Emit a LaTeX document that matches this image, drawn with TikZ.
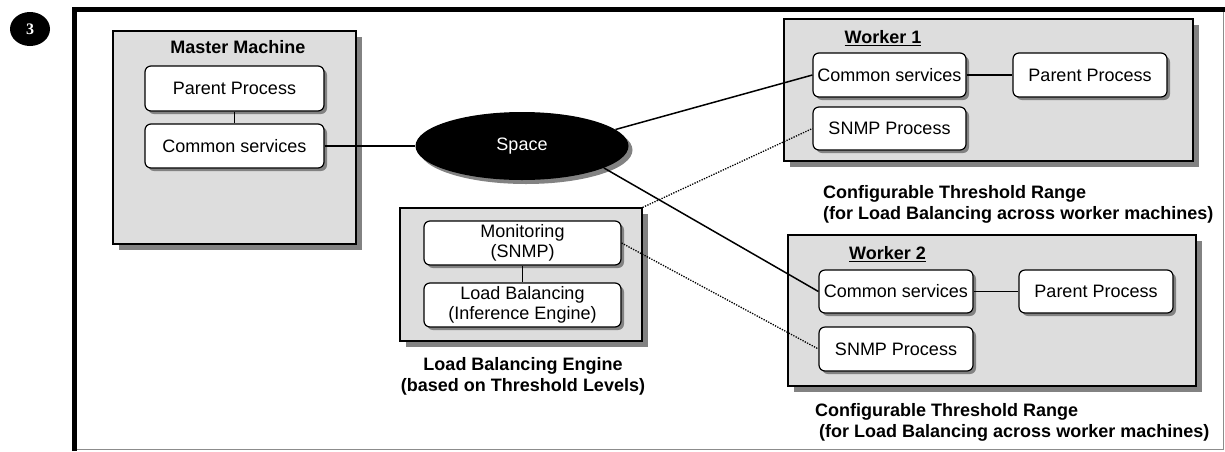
\documentclass[tikz,border=0pt]{standalone}
\usepackage{fontspec}
\setmainfont{Liberation Sans}
\newfontfamily\badgefont{Liberation Serif}
\usetikzlibrary{calc, shapes, shadows}
\definecolor{machinegray}{HTML}{DDDDDD}
\definecolor{shadowgray}{HTML}{828282}
\definecolor{framegray}{HTML}{8C8C8C}

\begin{document}
\begin{tikzpicture}[x=1pt, y=-1pt,
		machine/.style={draw, line width=1.2pt, fill=machinegray, inner sep=0pt,
			drop shadow={fill=shadowgray, opacity=1, shadow xshift=6pt, shadow yshift=-6pt}},
		proc/.style={draw, line width=1.2pt, fill=white, rounded corners=6pt, inner sep=0pt,
			align=center, font=\fontsize{18}{20}\selectfont,
			drop shadow={fill=shadowgray, opacity=1, shadow xshift=3pt, shadow yshift=-3pt}},
		title/.style={font=\fontsize{18}{21}\selectfont\bfseries, inner sep=0pt, anchor=base},
		caption/.style={font=\fontsize{18}{21}\selectfont\bfseries, inner sep=0pt},
		link/.style={line width=1.5pt},
		snmplink/.style={line width=1.3pt, dash pattern=on 1.3pt off 1.3pt}]
				\useasboundingbox (0,0) rectangle (1225,451);
				%Outer frame
				\draw[framegray, line width=1pt] (75,9) rectangle (1223,449);
				\draw[line width=5pt] (74.5,451) -- (74.5,9.2) -- (1225,9.2);
				%Number badge
				\node [ellipse, fill=black, minimum width=40pt, minimum height=34pt, inner sep=0pt,
					text=white, font=\badgefont\fontsize{16}{16}\selectfont\bfseries] (badge) at (30,29) {3};
				%Master machine
				\node [machine, minimum width=243pt, minimum height=213pt] (master) at (234.5,137.5) {};
				\node [title] (mastertitle) at (238,53.5) {Master Machine};
				\node [proc, minimum width=179pt, minimum height=45pt] (mpp) at (234.5,88.5) {Parent Process};
				\node [proc, minimum width=179pt, minimum height=44pt] (mcs) at (234.5,146) {Common services};
				%Space
				\node [ellipse, fill=black, minimum width=213pt, minimum height=68pt, inner sep=0pt,
					text=white, font=\fontsize{18}{20}\selectfont,
					drop shadow={fill=shadowgray, opacity=1, shadow xshift=4pt, shadow yshift=-4pt}] (space) at (522,146) {Space};
				%Load balancing engine
				\node [machine, minimum width=242pt, minimum height=133pt] (lbe) at (521,274.5) {};
				\node [proc, minimum width=197pt, minimum height=44pt] (mon) at (522.5,243) {Monitoring\\(SNMP)};
				\node [proc, minimum width=197pt, minimum height=44pt] (lb) at (522.5,305) {Load Balancing\\(Inference Engine)};
				\node [caption, align=center] (lbecap) at (523,376) {Load Balancing Engine\\(based on Threshold Levels)};
				%Worker 1
				\node [machine, minimum width=409pt, minimum height=142pt] (wone) at (988.5,90) {};
				\node [title] (wonetitle) at (883,43.5) {\underline{Worker 1}};
				\node [proc, minimum width=153pt, minimum height=44pt] (w1cs) at (889.5,75) {Common services};
				\node [proc, minimum width=154pt, minimum height=44pt] (w1pp) at (1090,75) {Parent Process};
				\node [proc, minimum width=153pt, minimum height=43pt] (w1snmp) at (889.5,128.5) {SNMP Process};
				\node [caption, align=left, anchor=west] (wonecap) at (823,204) {Configurable Threshold Range\\(for Load Balancing across worker machines)};
				%Worker 2
				\node [machine, minimum width=408pt, minimum height=151pt] (wtwo) at (992,310.5) {};
				\node [title] (wtwotitle) at (887.5,259.5) {\underline{Worker 2}};
				\node [proc, minimum width=154pt, minimum height=43pt] (w2cs) at (896,291.5) {Common services};
				\node [proc, minimum width=154pt, minimum height=43pt] (w2pp) at (1096,291.5) {Parent Process};
				\node [proc, minimum width=154pt, minimum height=44pt] (w2snmp) at (896,349) {SNMP Process};
				\node [caption, align=left, anchor=west] (wtwocap) at (815,422) {Configurable Threshold Range\\\hspace*{4pt}(for Load Balancing across worker machines)};
				%Connections
				\draw[link] (mpp) -- (mcs);
				\draw[link] (mcs) -- (space);
				\draw[link] (space.10) -- (w1cs.west);
				\draw[link] (space.-15) -- (w2cs.west);
				\draw[link] (w1cs) -- (w1pp);
				\draw[link] (w2cs) -- (w2pp);
				\draw[link] (mon) -- (lb);
				%SNMP monitoring
				\draw[snmplink] (lbe.north east) -- (w1snmp.west);
				\draw[snmplink] (mon.east) -- (w2snmp.west);
\end{tikzpicture}
\end{document}
